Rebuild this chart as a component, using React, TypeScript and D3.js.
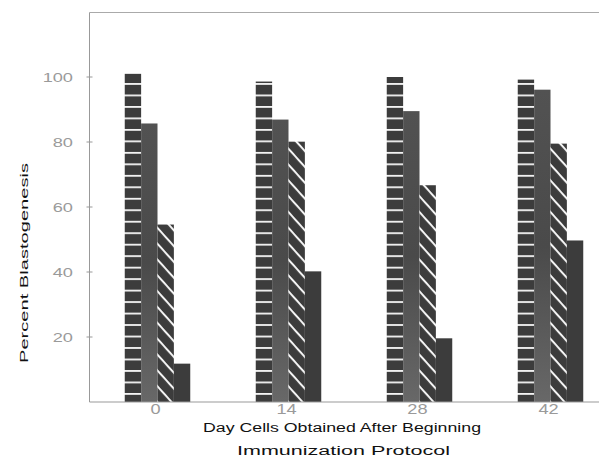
import * as d3 from 'd3';

const days = ['0', '14', '28', '42'];
const seriesKeys = ['hstripe', 'mottled', 'diagonal', 'solid'];
const hStriped = [101, 98.6, 100, 99.2];
const mottled = [85.7, 86.9, 89.5, 96.1];
const diagonal = [54.6, 80.1, 66.7, 79.5];
const solid = [11.8, 40.2, 19.6, 49.7];
const yTicks = [20, 40, 60, 80, 100];

const xTitle1 = 'Day Cells Obtained After Beginning';
const xTitle2 = 'Immunization Protocol';
const yTitle = 'Percent Blastogenesis';

export default function App() {
  const W = 599;
  const H = 471;
  const left = 89.5;
  const top = 12.5;
  const x0 = d3.scaleBand<string>().domain(days).range([92, 616]).paddingInner(0.5).paddingOuter(0.25);
  const x1 = d3.scaleBand<string>().domain(seriesKeys).range([0, x0.bandwidth()]);
  const y = d3.scaleLinear().domain([0, 120]).range([402, 12]);
  const series = [hStriped, mottled, diagonal, solid];
  const fills = ['url(#hs)', 'url(#mt)', 'url(#dg)', '#3c3c3c'];
  const font = "'Liberation Sans', Arial, sans-serif";

  return (
    <svg width={W} height={H} style={{ position: 'absolute', left: 0, top: 0, background: '#fff' }}>
      <defs>
        <pattern id="hs" patternUnits="userSpaceOnUse" width="20" height="11.48" y="393">
          <rect width="20" height="11.48" fill="#3c3c3c" />
          <rect width="20" height="1.8" fill="#f4f4f4" />
        </pattern>
        <pattern id="dg" patternUnits="userSpaceOnUse" width="20" height="10.6" patternTransform="rotate(48)">
          <rect width="20" height="10.6" fill="#3c3c3c" />
          <rect width="20" height="2" fill="#f4f4f4" />
        </pattern>
        <linearGradient id="mt" x1="0" y1="0" x2="0" y2="1">
          <stop offset="0" stopColor="#525252" />
          <stop offset="0.5" stopColor="#4a4a4a" />
          <stop offset="1" stopColor="#686868" />
        </linearGradient>
      </defs>

      {/* frame */}
      <line x1={left} x2={W} y1={top} y2={top} stroke="#aaa" strokeWidth={1} />
      <line x1={left} x2={left} y1={top} y2={y(0)} stroke="#999" strokeWidth={1} />

      {/* bars */}
      {days.map((d, gi) => (
        <g key={d} transform={`translate(${x0(d)},0)`}>
          {series.map((s, si) => (
            <rect
              key={si}
              x={x1(seriesKeys[si])}
              width={x1.bandwidth()}
              y={y(s[gi])}
              height={y(0) - y(s[gi])}
              fill={fills[si]}
            />
          ))}
        </g>
      ))}

      <line x1={left} x2={W} y1={y(0)} y2={y(0)} stroke="#999" strokeWidth={1} />

      {/* y ticks */}
      {yTicks.map((t) => (
        <g key={t}>
          <line x1={86.5} x2={92.5} y1={y(t)} y2={y(t)} stroke="#999" strokeWidth={1} />
          <text
            x={73}
            y={y(t) + 5}
            textAnchor="end"
            fontFamily={font}
            fontSize={13}
            fill="#9a9a9a"
            transform={`translate(73,0) scale(1.4,1) translate(-73,0)`}
          >
            {t}
          </text>
        </g>
      ))}

      {/* x ticks */}
      {days.map((d) => {
        const cx = (x0(d) as number) + x0.bandwidth() / 2 - 2;
        return (
          <text
            key={d}
            x={cx}
            y={414}
            textAnchor="middle"
            fontFamily={font}
            fontSize={14}
            fill="#9a9a9a"
            transform={`translate(${cx},0) scale(1.3,1) translate(${-cx},0)`}
          >
            {d}
          </text>
        );
      })}

      {/* titles */}
      <text x={203} y={432} fontFamily={font} fontSize={12} fill="#111" textLength={278} lengthAdjust="spacingAndGlyphs">
        {xTitle1}
      </text>
      <text x={237} y={455} fontFamily={font} fontSize={12} fill="#111" textLength={213} lengthAdjust="spacingAndGlyphs">
        {xTitle2}
      </text>
      <text
        transform="translate(27.5,363) rotate(-90)"
        x={0}
        y={0}
        fontFamily={font}
        fontSize={11.5}
        fill="#111"
        textLength={200}
        lengthAdjust="spacingAndGlyphs"
      >
        {yTitle}
      </text>
    </svg>
  );
}
